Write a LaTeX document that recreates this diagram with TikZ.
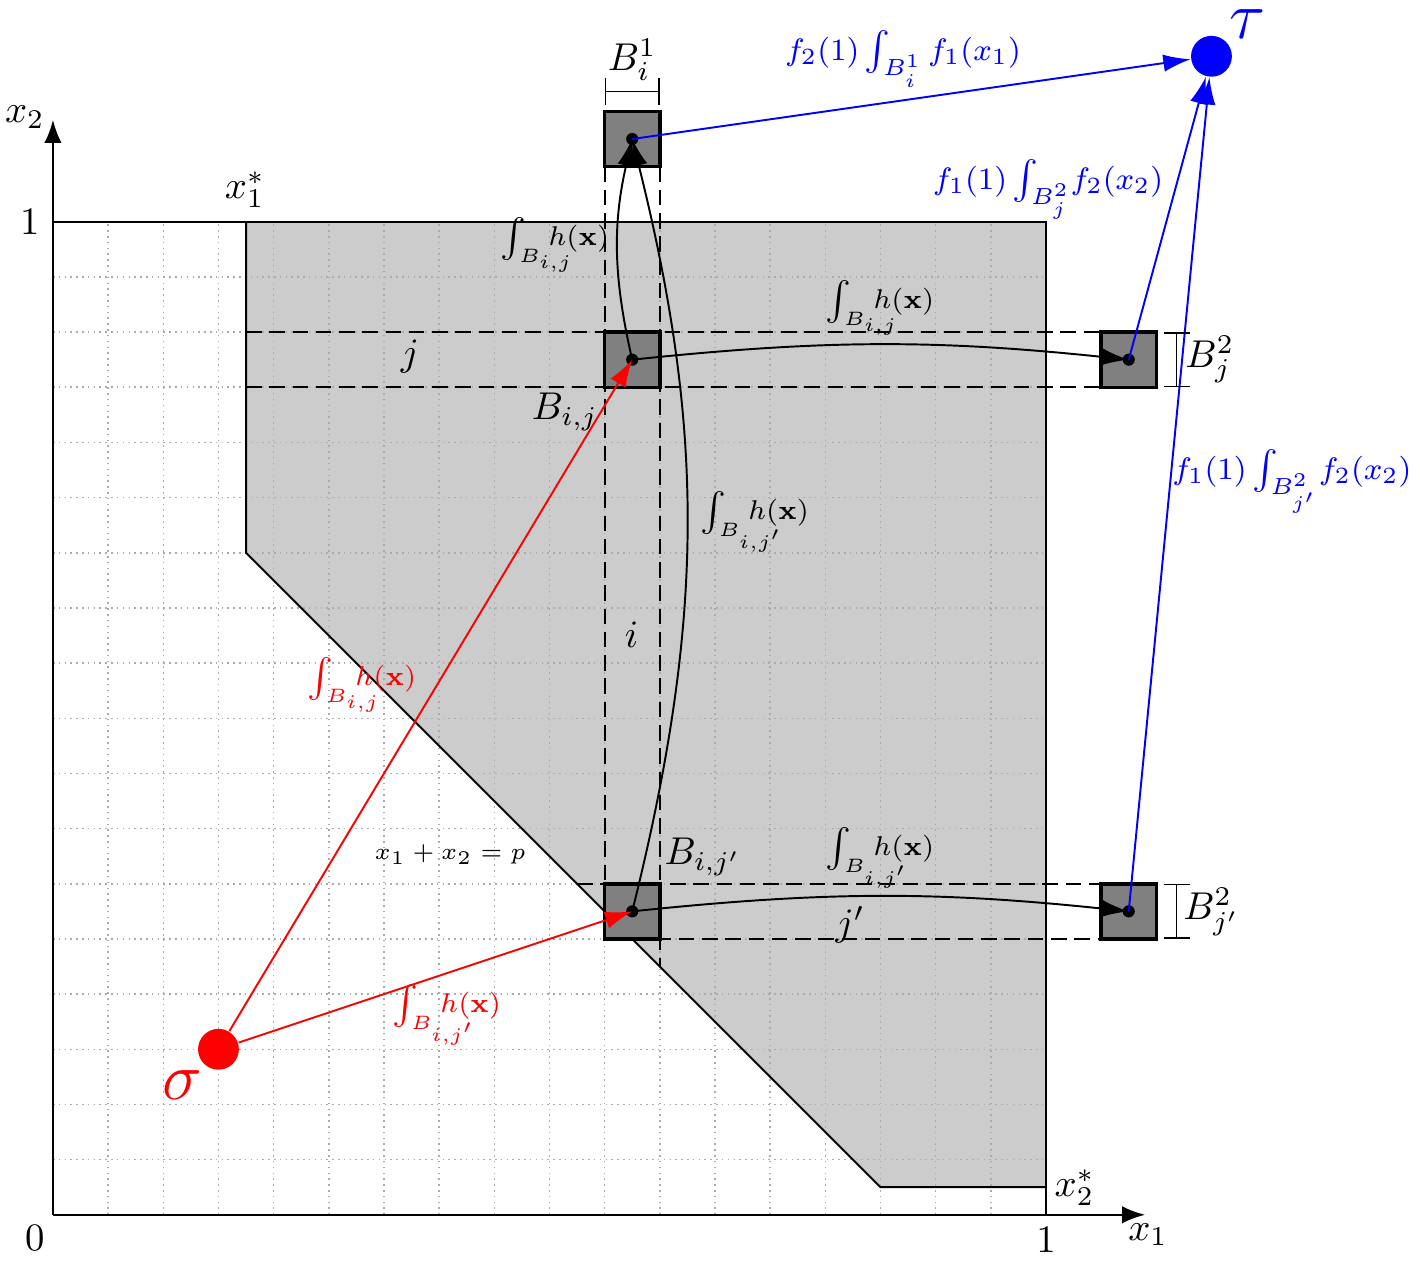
\documentclass[tikz,border=0pt]{standalone}
\usetikzlibrary{arrows.meta,positioning}
\definecolor{regiongray}{HTML}{CCCCCC}
\definecolor{boxgray}{HTML}{808080}
\definecolor{gridgray}{HTML}{ABABAB}
\definecolor{flowred}{HTML}{FF0000}
\definecolor{flowblue}{HTML}{0000FF}
\newcommand{\intB}[1]{\int_{B_{\rlap{$\scriptscriptstyle #1$}}}h(\mathbf{x})}
\tikzset{
  axis/.style={-{Latex[length=6pt,width=4.5pt]},line width=.6pt},
  gridline/.style={draw=gridgray,line width=.4pt,dash pattern=on .4pt off 1.1pt},
  border/.style={draw=black,line width=.5pt},
  guide/.style={draw=black,line width=.5pt,dash pattern=on 4pt off 2pt},
  cell/.style={rectangle,draw=black,line width=.9pt,fill=boxgray,
    minimum size=5mm,inner sep=0pt},
  arc/.style={-{Latex[length=7pt,width=4.5pt]},draw=black,line width=.5pt},
  redarc/.style={arc,draw=flowred},
  bluearc/.style={arc,draw=flowblue},
  terminal/.style={circle,minimum size=3.7mm,inner sep=0pt},
  measure/.style={{Bar[width=6.8pt]}-{Bar[width=6.8pt]},line width=.4pt},
  lab/.style={inner sep=1pt},
  flowlab/.style={lab,font=\fontsize{7.5}{9}\selectfont},
  costlab/.style={lab,font=\footnotesize,text=flowblue},
}
\begin{document}
\begin{tikzpicture}[x=5mm,y=5mm]
\useasboundingbox (-0.96,-0.82) rectangle (24.78,22.02);
% region above the line x1+x2=p
\coordinate (ctop) at (3.5,18);\coordinate (rtop) at (18,18);
\coordinate (rbot) at (18,0.5);\coordinate (dbot) at (15,0.5);
\coordinate (dtop) at (3.5,12);
\fill[regiongray] (ctop) -- (rtop) -- (rbot) -- (dbot) -- (dtop) -- cycle;
\draw[gridline,step=5mm] (0,0) grid (18,18);
\draw[border] (0,18) -- (rtop) -- (18,0);
\draw[border] (ctop) -- (dtop) -- (dbot) -- (rbot);
\coordinate (o) at (0,0);\coordinate (xend) at (19.8,0);\coordinate (yend) at (0,19.85);
\draw[axis] (o) -- (xend);\draw[axis] (o) -- (yend);
% dashed strips
\coordinate (jtop) at (3.5,16);\coordinate (jbot) at (3.5,15);
\coordinate (jtopr) at (20,16);\coordinate (jbotr) at (20,15);
\coordinate (jptop) at (9.5,6);\coordinate (jpbot) at (10.5,5);
\coordinate (jptopr) at (20,6);\coordinate (jpbotr) at (20,5);
\coordinate (itopl) at (10,19);\coordinate (itopr) at (11,19);
\coordinate (cutl) at (10,5.5);\coordinate (cutr) at (11,4.5);
\foreach \a/\b in {jtop/jtopr,jbot/jbotr,jptop/jptopr,jpbot/jpbotr,itopl/cutl,itopr/cutr}
  \draw[guide] (\a) -- (\b);
% boxes
\node[cell] (bi1) at (10.5,19.5) {};
\node[cell] (bij) at (10.5,15.5) {};
\node[cell] (bijp) at (10.5,5.5) {};
\node[cell] (bj2) at (19.5,15.5) {};
\node[cell] (bjp2) at (19.5,5.5) {};
\foreach \b in {bi1,bij,bijp,bj2,bjp2}\fill (\b.center) circle (.11);
% source and sink
\node[terminal,fill=flowred] (sigma) at (3,3) {};
\node[terminal,fill=flowblue] (tau) at (21,21) {};
\node[lab,text=flowred,font=\LARGE] (sigmalab) at (2.35,2.36) {$\sigma$};
\node[lab,text=flowblue,font=\LARGE] (taulab) at (21.66,21.58) {$\tau$};
% flows
\draw[redarc] (sigma) -- (bij.center);
\draw[redarc] (sigma) -- (bijp.center);
\draw[arc] (bij.center) to[bend left=13] (bi1.center);
\draw[arc] (bijp.center) to[bend right=14] (bi1.center);
\draw[arc] (bij.center) to[bend left=6] (bj2.center);
\draw[arc] (bijp.center) to[bend left=6] (bjp2.center);
\foreach \b in {bi1,bj2,bjp2}\draw[bluearc] (\b.center) -- (tau);
% measures
\coordinate (m1l) at (10,20.36);\coordinate (m1r) at (11,20.36);
\coordinate (m2t) at (20.37,16);\coordinate (m2b) at (20.37,15);
\coordinate (m3t) at (20.37,6);\coordinate (m3b) at (20.37,5);
\foreach \a/\b in {m1l/m1r,m2t/m2b,m3t/m3b}\draw[measure] (\a) -- (\b);
\node[lab] (bi1lab) at (10.5,20.93) {$B^1_i$};
\node[lab] (bj2lab) at (20.97,15.5) {$B^2_j$};
\node[lab] (bjp2lab) at (21.0,5.49) {$B^2_{j'}$};
% labels
\node[flowlab,text=flowred] (r1) at (5.6,9.61) {$\intB{i,j}$};
\node[flowlab,text=flowred] (r2) at (7.14,3.63) {$\intB{i,j'}$};
\node[flowlab] (k1) at (9.1,17.58) {$\intB{i,j}$};
\node[flowlab] (k2) at (12.72,12.56) {$\intB{i,j'}$};
\node[flowlab] (k3) at (14.99,16.44) {$\intB{i,j}$};
\node[flowlab] (k4) at (14.99,6.47) {$\intB{i,j'}$};
\node[costlab] (u1) at (15.41,20.95) {$f_2(1)\int_{B^1_i}f_1(x_1)$};
\node[costlab] (u2) at (18.04,18.58) {$f_1(1)\int_{B^2_j}\!f_2(x_2)$};
\node[costlab] (u3) at (22.46,13.29) {$f_1(1)\int_{B^2_{j'}}\!f_2(x_2)$};
\node[lab] (jlab) at (6.47,15.55) {$j$};
\node[lab] (jplab) at (14.45,5.26) {$j'$};
\node[lab] (ilab) at (10.49,10.51) {$i$};
\node[lab] (bijlab) at (9.28,14.55) {$B_{i,j}$};
\node[lab] (bijplab) at (11.78,6.49) {$B_{i,j'}$};
\node[lab,font=\fontsize{6.3}{8}\selectfont] (plab) at (7.2,6.53) {$x_1+x_2=p$};
\node[lab] (x1s) at (3.48,18.58) {$x^*_1$};
\node[lab] (x2s) at (18.52,0.49) {$x^*_2$};
\node[lab] (y1) at (-0.42,18) {$1$};
\node[lab] (zero) at (-0.33,-0.42) {$0$};
\node[lab] (x1one) at (18,-0.45) {$1$};
\node[lab] (x1lab) at (19.85,-0.36) {$x_1$};
\node[lab] (x2lab) at (-0.51,19.9) {$x_2$};
\end{tikzpicture}
\end{document}
